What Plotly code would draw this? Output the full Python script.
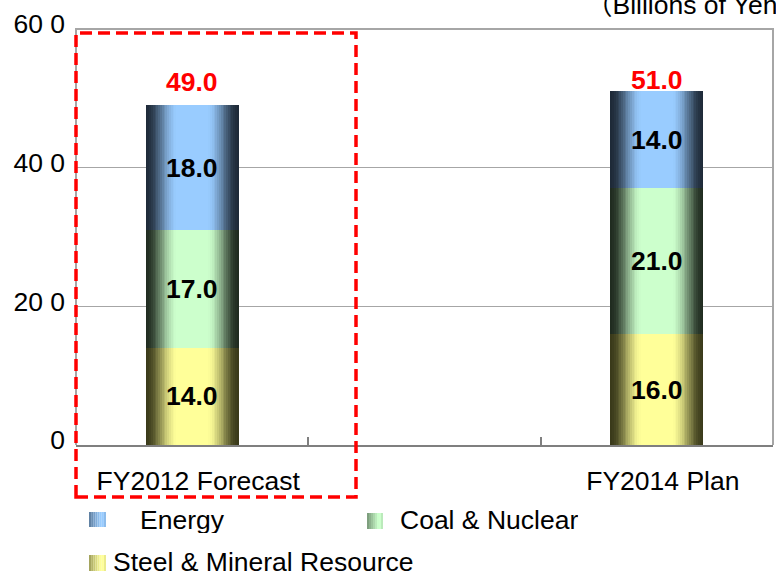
import numpy as np
import plotly.graph_objects as go

# ---- data ----
categories = ["FY2012 Forecast", "FY2014 Plan"]
series_names = ["Steel & Mineral Resource", "Coal & Nuclear", "Energy"]
steel = [14.0, 16.0]
coal = [17.0, 21.0]
energy = [18.0, 14.0]
y_tick_vals = [0, 20, 40, 60]
y_tick_text = ["0", "20 0", "40 0", "60 0"]
unit_note = "（Billions of Yen)"

# ---- styling ----
FONT = "Liberation Sans, Arial, Noto Sans CJK JP, sans-serif"
FS = 26.5
# (light centre colour, dark edge colour) for the cylinder-like shading
shades = {
    "Steel & Mineral Resource": ((255, 255, 153), (58, 58, 26)),
    "Coal & Nuclear": ((204, 255, 204), (32, 44, 32)),
    "Energy": ((153, 204, 255), (30, 42, 56)),
}
BAR_W = 0.40
N_LAYERS = 26

W, H = 776, 576
ML, MR, MT, MB = 76, 3, 29, 131
PW, PH = W - ML - MR, H - MT - MB


def px(x):
    return (x - ML) / PW


def py(y):
    return (H - MB - y) / PH


def mix(light, dark, s):
    c = [int(round(d + (l - d) * s)) for l, d in zip(light, dark)]
    return f"rgb({c[0]},{c[1]},{c[2]})"


def shade_level(t):
    # t = 0 at the bar centre, 1 at its edge
    u = np.clip((1 - t) / 0.68, 0, 1)
    return u * u * (3 - 2 * u)


values = {"Steel & Mineral Resource": steel, "Coal & Nuclear": coal, "Energy": energy}

fig = go.Figure()
base = np.zeros(len(categories))
for name in series_names:
    vals = np.array(values[name])
    light, dark = shades[name]
    # nested bars of shrinking width give a horizontal gradient
    for k in range(N_LAYERS):
        t = 1 - (k + 0.5) / N_LAYERS
        fig.add_trace(go.Bar(
            x=categories, y=vals, base=base,
            width=BAR_W * (1 - k / N_LAYERS),
            marker=dict(color=mix(light, dark, shade_level(t)), line=dict(width=0)),
            name=name, showlegend=False, hoverinfo="skip" if k else "y+name",
        ))
    for c, v, b in zip(categories, vals, base):
        fig.add_annotation(x=c, y=b + v / 2, text=f"<b>{v:.1f}</b>", showarrow=False,
                           font=dict(family=FONT, size=FS, color="black"))
    base = base + vals

# totals above each column
total_shift = [6, -6]
for c, tot, sh in zip(categories, base, total_shift):
    fig.add_annotation(x=c, y=tot, text=f"<b>{tot:.1f}</b>", showarrow=False,
                       yanchor="bottom", yshift=sh,
                       font=dict(family=FONT, size=FS, color="#ff0000"))

# unit note, running off the right edge
fig.add_annotation(xref="paper", yref="paper", x=px(584), y=py(22), text=unit_note,
                   showarrow=False, xanchor="left", yanchor="bottom",
                   font=dict(family=FONT, size=FS, color="black"))

shapes = []
# plot frame (left, top, right)
shapes.append(dict(type="path", xref="paper", yref="paper", path="M0,0 L0,1 L1,1 L1,0",
                   line=dict(color="#a6a6a6", width=2), layer="above"))
# highlight box around the forecast column
shapes.append(dict(type="rect", xref="paper", yref="paper",
                   x0=px(76), x1=px(356), y0=py(497), y1=py(33),
                   line=dict(color="#ff0000", width=3.5, dash="12px,6px"), layer="above"))

# legend (icon boxes + labels)
legend_items = [
    ("Energy", (89, 512, 106, 527), 138, 520),
    ("Coal & Nuclear", (367, 513, 383, 529), 398, 520),
    ("Steel & Mineral Resource", (89, 555, 106, 571), 111, 562),
]
for name, (x0, y0, x1, y1), tx, ty in legend_items:
    light, dark = shades[name]
    n = 8
    for i in range(n):
        f = (i + 0.5) / n
        s = 0.5 + 0.5 * min(1.0, f / 0.7) - (0.1 if f > 0.9 else 0.0)
        shapes.append(dict(type="rect", xref="paper", yref="paper",
                           x0=px(x0 + (x1 - x0) * i / n), x1=px(x0 + (x1 - x0) * (i + 1) / n),
                           y0=py(y1), y1=py(y0), line=dict(width=0),
                           fillcolor=mix(light, dark, s), layer="above"))
    fig.add_annotation(xref="paper", yref="paper", x=px(tx), y=py(ty), text=name,
                       showarrow=False, xanchor="left", yanchor="middle", height=26,
                       font=dict(family=FONT, size=FS, color="black"))

fig.update_layout(
    width=W, height=H,
    margin=dict(l=ML, r=MR, t=MT, b=MB),
    paper_bgcolor="white", plot_bgcolor="white",
    barmode="overlay", bargap=0,
    showlegend=False,
    shapes=shapes,
    font=dict(family=FONT, size=FS, color="black"),
    xaxis=dict(
        type="category", categoryorder="array",
        categoryarray=[categories[0], " ", categories[1]],
        range=[-0.5, 2.5],
        showline=True, linecolor="#7f7f7f", linewidth=2,
        tickson="boundaries", ticks="inside", ticklen=8, tickwidth=1.5, tickcolor="#7f7f7f",
        showgrid=False, zeroline=False,
        ticklabelstandoff=11, ticklabelshift=6,
        tickfont=dict(family=FONT, size=FS, color="black"),
    ),
    yaxis=dict(
        range=[0, 60], tickmode="array", tickvals=y_tick_vals, ticktext=y_tick_text,
        showgrid=True, gridcolor="#a6a6a6", gridwidth=1,
        zeroline=False, showline=False, ticks="",
        ticklabelstandoff=10, ticklabelshift=-5,
        tickfont=dict(family=FONT, size=FS, color="black"),
    ),
)

fig.write_html("out.html")
